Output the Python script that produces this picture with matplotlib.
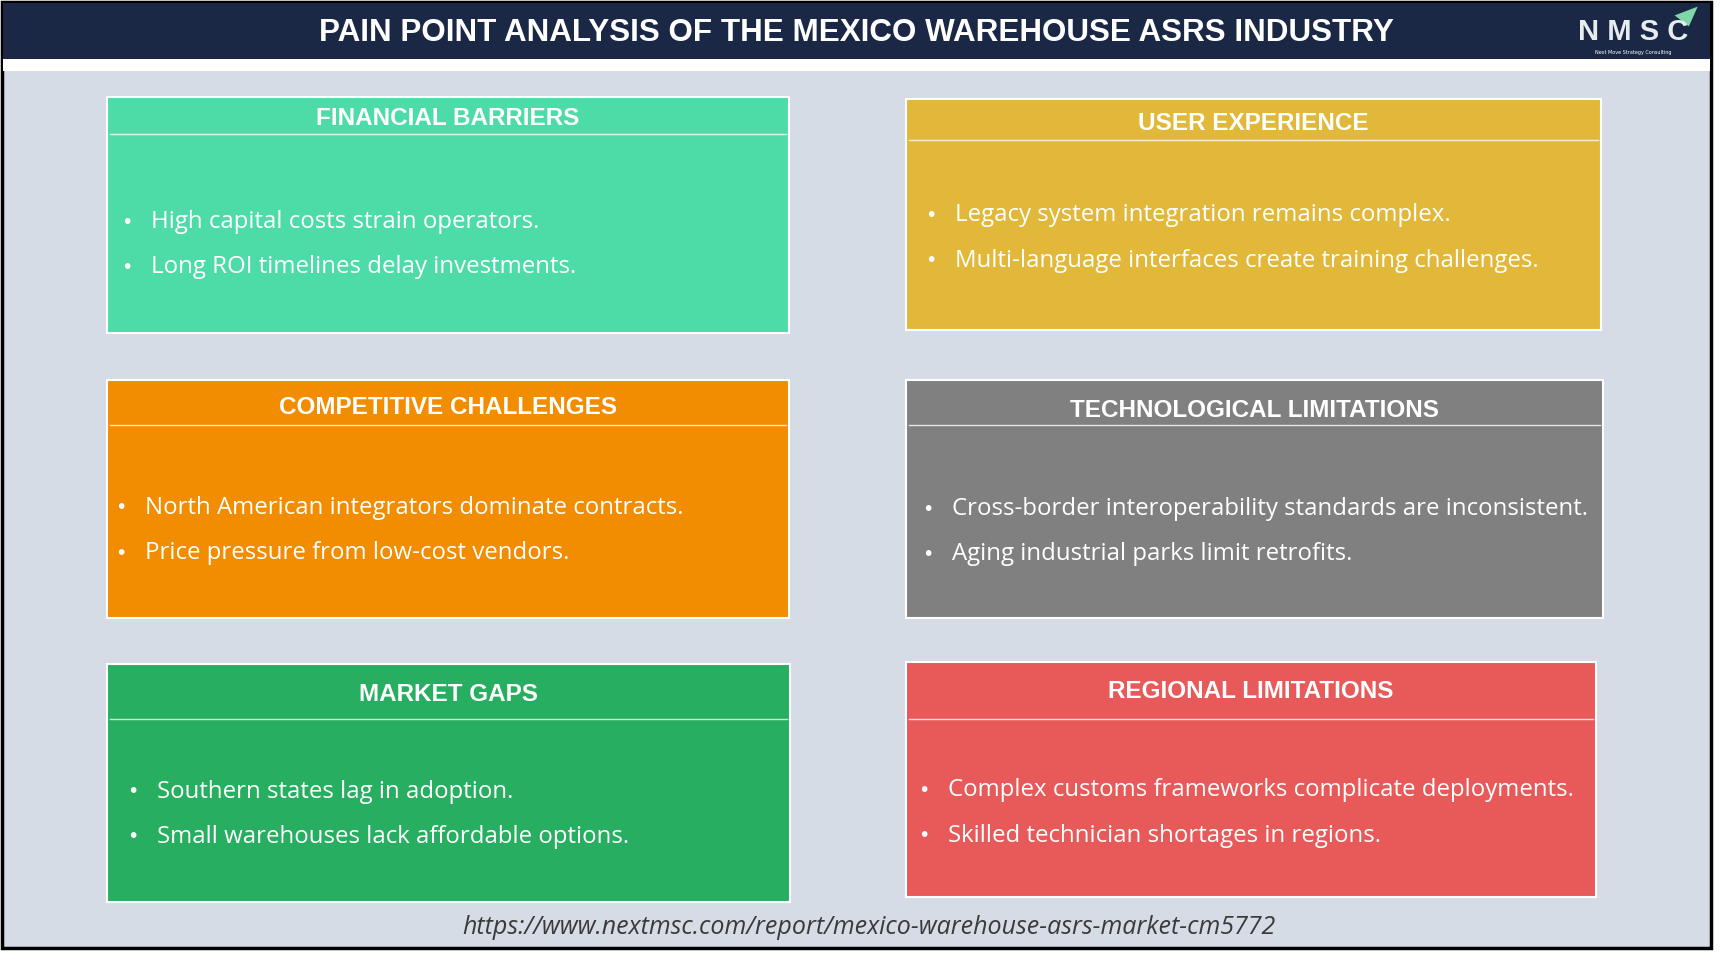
import matplotlib.pyplot as plt
from matplotlib.patches import Rectangle, Polygon

# panel data
titles = ['FINANCIAL BARRIERS', 'USER EXPERIENCE', 'COMPETITIVE CHALLENGES',
          'TECHNOLOGICAL LIMITATIONS', 'MARKET GAPS', 'REGIONAL LIMITATIONS']
bullets = [
    ['High capital costs strain operators.', 'Long ROI timelines delay investments.'],
    ['Legacy system integration remains complex.', 'Multi-language interfaces create training challenges.'],
    ['North American integrators dominate contracts.', 'Price pressure from low-cost vendors.'],
    ['Cross-border interoperability standards are inconsistent.', 'Aging industrial parks limit retrofits.'],
    ['Southern states lag in adoption.', 'Small warehouses lack affordable options.'],
    ['Complex customs frameworks complicate deployments.', 'Skilled technician shortages in regions.'],
]
colors = ['#4ddca8', '#e2b83a', '#f28c00', '#808080', '#27ae60', '#e85959']

# layout (x0, y0, x1, y1, header bottom, title y, bullet x, first bullet y)
boxes = [
    (97, 88, 717, 303, 122, 108, 115, 202),
    (823, 90, 1455, 300, 127, 112, 846, 196),
    (97, 346, 717, 562, 387, 371, 110, 462),
    (823, 346, 1457, 562, 387, 373, 843, 463),
    (97, 604, 718, 820, 654, 632, 121, 720),
    (823, 602, 1451, 816, 654, 629, 840, 719),
]

W, H = 1566, 885
fig = plt.figure(figsize=(17.23, 9.73), dpi=100)
ax = fig.add_axes([0, 0, 1, 1])
ax.set_xlim(0, W)
ax.set_ylim(H, 0)
ax.axis('off')

ax.add_patch(Rectangle((2, 2), 1553, 860, facecolor='#d6dce5', edgecolor='black', lw=2.5))
ax.add_patch(Rectangle((3, 3), 1551, 51, facecolor='#1a2745', edgecolor='none'))
ax.add_patch(Rectangle((3, 54), 1551, 11, facecolor='white', edgecolor='none'))
ax.text(778, 30, 'PAIN POINT ANALYSIS OF THE MEXICO WAREHOUSE ASRS INDUSTRY', color='white',
        fontsize=22.6, fontweight='bold', ha='center', va='center', family='Liberation Sans')

# logo
ax.text(1484, 29, 'N M S C', color='#e8ecef', fontsize=21, fontweight='bold', ha='center', va='center',
        family='Liberation Sans')
ax.text(1484, 48, 'Next Move Strategy Consulting', color='white', fontsize=3.5, ha='center', va='center')
ax.add_patch(Polygon([[1522, 14], [1543, 6], [1535, 24]], closed=True, facecolor='#7fd6a8', edgecolor='none'))

for t, b, c, (x0, y0, x1, y1, hb, ty, bx, by) in zip(titles, bullets, colors, boxes):
    ax.add_patch(Rectangle((x0, y0), x1 - x0, y1 - y0, facecolor=c, edgecolor='white', lw=1.5))
    ax.plot([x0 + 3, x1 - 3], [hb, hb], color='white', lw=1, alpha=0.8)
    ax.text((x0 + x1) / 2, ty, t, color='white', fontsize=17.5, fontweight='bold',
            ha='center', va='center', family='Liberation Sans')
    for i, line in enumerate(b):
        y = by + i * 41
        ax.text(bx, y, '\u2022', color='white', fontsize=14, ha='center', va='center')
        ax.text(bx + 22, y, line, color='white', fontsize=17.3, ha='left', va='center', family='Open Sans')

ax.text(790, 844, 'https://www.nextmsc.com/report/mexico-warehouse-asrs-market-cm5772',
        color='#3a3a3a', fontsize=18, style='italic', ha='center', va='center', family='Open Sans')

fig.savefig('out.png', dpi=100, facecolor='white')
